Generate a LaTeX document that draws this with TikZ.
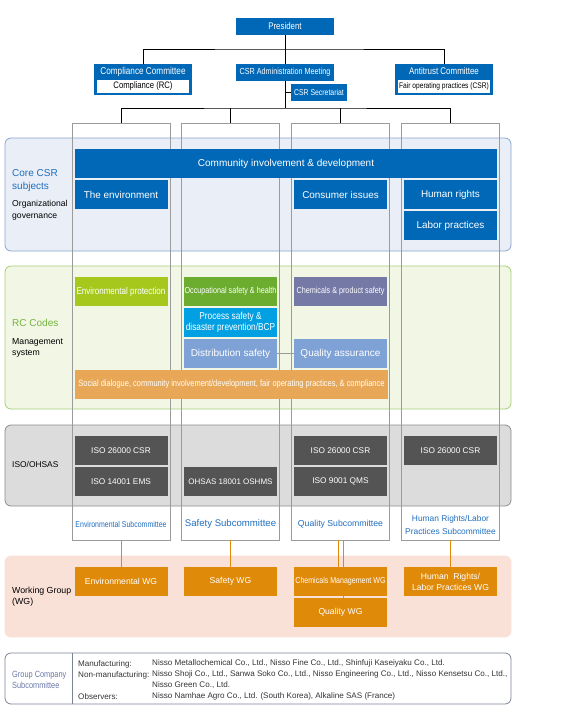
\documentclass[tikz,border=0pt]{standalone}
\usepackage{fontspec}
\setmainfont{Liberation Sans}
\newfontfamily\narrow[FakeStretch=0.82]{Liberation Sans}
\usepackage{tikz}
\usetikzlibrary{positioning}

\definecolor{csrblue}{HTML}{0068B7}
\definecolor{corefill}{HTML}{E9EEF7}
\definecolor{coreline}{HTML}{8AA6CF}
\definecolor{rcfill}{HTML}{F2F6E5}
\definecolor{rcline}{HTML}{A6CE78}
\definecolor{envgreen}{HTML}{A6C81C}
\definecolor{occgreen}{HTML}{6CAD30}
\definecolor{chempurple}{HTML}{7579A6}
\definecolor{processcyan}{HTML}{00A0E2}
\definecolor{distblue}{HTML}{7FA2D6}
\definecolor{socialorange}{HTML}{E8A756}
\definecolor{isofill}{HTML}{DCDCDC}
\definecolor{isoline}{HTML}{8C8C8C}
\definecolor{isodark}{HTML}{555455}
\definecolor{wgfill}{HTML}{FAE1D7}
\definecolor{wgorange}{HTML}{E08A0A}
\definecolor{colgray}{HTML}{9B9B9B}
\definecolor{subblue}{HTML}{1F6EBE}
\definecolor{rcgreen}{HTML}{72B43C}
\definecolor{groupline}{HTML}{7D8296}
\definecolor{grouptext}{HTML}{6B78A8}

\begin{document}
\begin{tikzpicture}[x=1pt, y=-1pt,
    box/.style={minimum width=93pt, minimum height=29pt, inner sep=1pt, outer sep=0pt, align=center, text=white},
    bluebox/.style={box, fill=csrblue, font=\fontsize{9.9}{11}\selectfont},
    rcbox/.style={box, font=\narrow\fontsize{8.8}{10}\selectfont},
    isobox/.style={box, fill=isodark, font=\fontsize{8.3}{10}\selectfont},
    wgbox/.style={box, fill=wgorange, font=\fontsize{8.6}{11}\selectfont},
    topbox/.style={fill=csrblue, text=white, minimum width=98pt, minimum height=17pt, inner sep=1pt, outer sep=0pt, font=\narrow\fontsize{8.8}{10}\selectfont},
    whitebox/.style={fill=white, minimum width=92pt, minimum height=13pt, inner sep=1pt, outer sep=0pt, font=\narrow\fontsize{9.4}{10}\selectfont},
    colbox/.style={draw=colgray, line width=0.7pt, minimum width=98pt, minimum height=417pt, inner sep=0pt, outer sep=0pt},
    sublabel/.style={text=subblue, align=center, inner sep=0pt, font=\fontsize{8.4}{13}\selectfont},
    sidelabel/.style={anchor=west, align=left, inner sep=0pt},
    link/.style={line width=0.8pt},
    wglink/.style={draw=wgorange, line width=0.8pt}
]
\useasboundingbox (0,0) rectangle (573,718);

% bands
\draw[rounded corners=6pt, draw=coreline, fill=corefill, line width=0.8pt] (5,138) rectangle (511,251);
\draw[rounded corners=6pt, draw=rcline, fill=rcfill, line width=0.8pt] (5,266) rectangle (511,409);
\draw[rounded corners=6pt, draw=isoline, fill=isofill, line width=0.8pt] (5,425) rectangle (511,506);
\draw[rounded corners=6pt, draw=wgfill, fill=wgfill, line width=0.8pt] (5,556) rectangle (511,637);

% columns
\foreach \i/\x in {1/121, 2/230.5, 3/340.5, 4/450.5}
    \node[colbox] (col\i) at (\x,331.5) {};

% top of the chart
\node[topbox, font=\narrow\fontsize{9.6}{10}\selectfont] (pres) at (285,26.5) {President};
\node[topbox, minimum height=31pt] (comp) at (143,79.5) {};
\node[text=white, inner sep=0pt, font=\narrow\fontsize{10}{10}\selectfont] (comptitle) at (143,71.5) {Compliance Committee};
\node[whitebox] (compin) at (143,86) {Compliance (RC)};
\node[topbox] (admin) at (285,72.5) {CSR Administration Meeting};
\node[topbox, minimum width=56pt, font=\narrow\fontsize{8.4}{10}\selectfont] (sec) at (319,92.5) {CSR Secretariat};
\node[topbox, minimum height=31pt] (anti) at (444,79.5) {};
\node[text=white, inner sep=0pt, font=\narrow\fontsize{9.7}{10}\selectfont] (antititle) at (444,71.5) {Antitrust Committee};
\node[whitebox, font=\narrow\fontsize{8.1}{9}\selectfont] (antiin) at (444,86) {Fair operating practices (CSR)};

\coordinate (busA) at (285,49);
\coordinate (busB) at (285,108);
\draw[link] (pres) -- (admin);
\draw[link] (comp.north) |- (busA) -| (anti.north);
\draw[link] (admin.south) -- (busB);
\draw[link] (sec.west) -- (sec.west -| busB);
\draw[link] (col1.north) |- (busB) -| (col4.north);
\draw[link] (col2.north) -- (col2.north |- busB);
\draw[link] (col3.north) -- (col3.north |- busB);

% core CSR subjects
\node[sidelabel, text=subblue, font=\fontsize{10}{13}\selectfont] (corelabel) at (12,180.5) {Core CSR\\subjects};
\node[sidelabel, font=\fontsize{8.6}{12}\selectfont] (govlabel) at (12,210.5) {Organizational\\governance};
\node[bluebox, minimum width=422pt, font=\fontsize{10}{12}\selectfont] (community) at (286,163.5) {Community involvement \& development};
\node[bluebox] (environment) at (121,194.5) {The environment};
\node[bluebox] (consumer) at (340.5,194.5) {Consumer issues};
\node[bluebox] (human) at (450.5,194.5) {Human rights};
\node[bluebox, below=2pt of human] (labor) {Labor practices};

% RC codes
\node[sidelabel, text=rcgreen, font=\fontsize{10}{13}\selectfont] (rclabel) at (12,322.5) {RC Codes};
\node[sidelabel, font=\fontsize{8.7}{11}\selectfont] (mslabel) at (12,348) {Management\\system};
\node[rcbox, fill=envgreen, font=\narrow\fontsize{9.8}{10}\selectfont] (envprot) at (121,291.5) {Environmental protection};
\node[rcbox, fill=occgreen] (occ) at (230.5,291.5) {Occupational safety \& health};
\node[rcbox, fill=chempurple] (chem) at (340.5,291.5) {Chemicals \& product safety};
\node[rcbox, fill=processcyan, font=\narrow\fontsize{10.1}{11}\selectfont, below=2pt of occ] (process) {Process safety \&\\disaster prevention/BCP};
\node[rcbox, fill=distblue, font=\fontsize{10}{11}\selectfont, below=2pt of process] (dist) {Distribution safety};
\node[rcbox, fill=distblue, font=\fontsize{10}{11}\selectfont] (qa) at (340.5,353.5) {Quality assurance};
\draw[colgray, line width=0.7pt] (dist) -- (qa);
\node[rcbox, fill=socialorange, minimum width=313pt, font=\narrow\fontsize{9.1}{10}\selectfont] (social) at (231.5,384.5) {Social dialogue, community involvement/development, fair operating practices, \& compliance};

% ISO / OHSAS
\node[sidelabel, font=\fontsize{8.4}{11}\selectfont] (isolabel) at (12,464.5) {ISO/OHSAS};
\node[isobox] (iso1a) at (121,450.5) {ISO 26000 CSR};
\node[isobox, below=2pt of iso1a] (iso1b) {ISO 14001 EMS};
\node[isobox, font=\fontsize{8}{10}\selectfont] (ohsas) at (230.5,481.5) {OHSAS 18001 OSHMS};
\node[isobox] (iso3a) at (340.5,450.5) {ISO 26000 CSR};
\node[isobox, below=2pt of iso3a] (iso3b) {ISO 9001 QMS};
\node[isobox] (iso4a) at (450.5,450.5) {ISO 26000 CSR};

% subcommittees
\node[sublabel, font=\narrow\fontsize{8.5}{10}\selectfont] (subenv) at (121,524.5) {Environmental Subcommittee};
\node[sublabel, font=\fontsize{9.6}{11}\selectfont] (subsafe) at (230.5,524.5) {Safety Subcommittee};
\node[sublabel, font=\fontsize{8.7}{11}\selectfont] (subqual) at (340.5,524.5) {Quality Subcommittee};
\node[sublabel] (subhr) at (450.5,525) {Human Rights/Labor\\Practices Subcommittee};

% working groups
\node[sidelabel, font=\fontsize{8.8}{11}\selectfont] (wglabel) at (12,597) {Working Group\\(WG)};
\node[wgbox] (envwg) at (121,581.5) {Environmental WG};
\node[wgbox] (safwg) at (230.5,581.5) {Safety WG};
\node[wgbox, font=\narrow\fontsize{8.6}{10}\selectfont] (chemwg) at (340.5,581.5) {Chemicals Management WG};
\node[wgbox, below=2pt of chemwg] (qwg) {Quality WG};
\node[wgbox] (hrwg) at (450.5,581.5) {Human\ \ Rights/\\Labor Practices WG};
\draw[wglink] (col1.south) -- (envwg.north);
\draw[wglink] (col2.south) -- (safwg.north);
\draw[wglink] ([xshift=-2.5pt]col3.south) -- ([xshift=-2.5pt]chemwg.north);
\draw[wglink] ([xshift=2.5pt]col3.south) -- ([xshift=2.5pt]chemwg.north);
\draw[wglink] ([xshift=2.5pt]chemwg.south) -- ([xshift=2.5pt]qwg.north);
\draw[wglink] (col4.south) -- (hrwg.north);

% group companies
\draw[rounded corners=6pt, draw=groupline, line width=0.8pt] (5,653) rectangle (511,704);
\draw[groupline, line width=0.8pt] (72,653) -- (72,704);
\node[sidelabel, text=grouptext, font=\narrow\fontsize{9}{11}\selectfont] (grouplabel) at (12,680) {Group Company\\Subcommittee};
\node[sidelabel, text=black!80, font=\fontsize{8.1}{11}\selectfont] (groupkinds) at (78,680) {Manufacturing:\\Non-manufacturing:\\\mbox{}\\Observers:};
\node[sidelabel, text=black!80, font=\fontsize{8.1}{11}\selectfont] (groupnames) at (152,680) {Nisso Metallochemical Co., Ltd., Nisso Fine Co., Ltd., Shinfuji Kaseiyaku Co., Ltd.\\Nisso Shoji Co., Ltd., Sanwa Soko Co., Ltd., Nisso Engineering Co., Ltd., Nisso Kensetsu Co., Ltd.,\\Nisso Green Co., Ltd.\\Nisso Namhae Agro Co., Ltd. (South Korea), Alkaline SAS (France)};
\end{tikzpicture}
\end{document}
